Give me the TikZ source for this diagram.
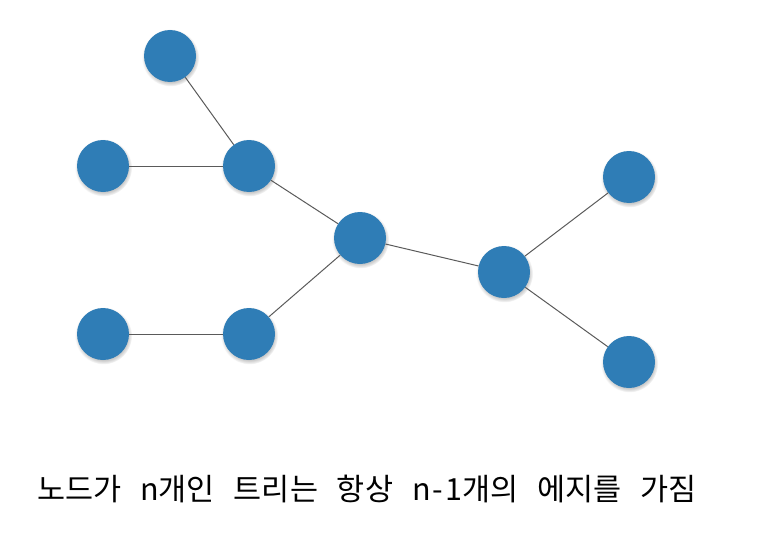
\documentclass[tikz,border=0pt]{standalone}
\usepackage{fontspec}
\newfontfamily\kr{Noto Sans CJK KR}
\usetikzlibrary{shadows}
\definecolor{nodeblue}{RGB}{47,125,182}
\definecolor{edgegray}{RGB}{90,90,90}
\tikzset{
  tnode/.style={circle, fill=nodeblue, minimum size=52pt, inner sep=0pt,
    circular drop shadow={shadow xshift=0.4pt, shadow yshift=-1.6pt, opacity=0.35, fill=black!60}},
  tedge/.style={draw=edgegray, line width=1pt},
  caption/.style={font=\kr\fontsize{30.5}{36}\selectfont, inner sep=0pt, anchor=base west}
}
\begin{document}
\begin{tikzpicture}[x=1pt,y=-1pt]
\useasboundingbox (0,0) rectangle (773,535);
\node[tnode] (a) at (170,56) {};
\node[tnode] (b) at (103,166) {};
\node[tnode] (c) at (249,166) {};
\node[tnode] (d) at (360,238) {};
\node[tnode] (e) at (504,272) {};
\node[tnode] (f) at (629,177) {};
\node[tnode] (g) at (629,362) {};
\node[tnode] (h) at (103,334) {};
\node[tnode] (i) at (249,334) {};
\draw[tedge] (a) -- (c);
\draw[tedge] (b) -- (c);
\draw[tedge] (c) -- (d);
\draw[tedge] (i) -- (d);
\draw[tedge] (h) -- (i);
\draw[tedge] (d) -- (e);
\draw[tedge] (e) -- (f);
\draw[tedge] (e) -- (g);
\node[caption] (t) at (37,500) {\spaceskip=0.62em\relax 노드가 n개인 트리는 항상 n\kern2pt-\kern2pt1개의 에지를 가짐};
\end{tikzpicture}
\end{document}
